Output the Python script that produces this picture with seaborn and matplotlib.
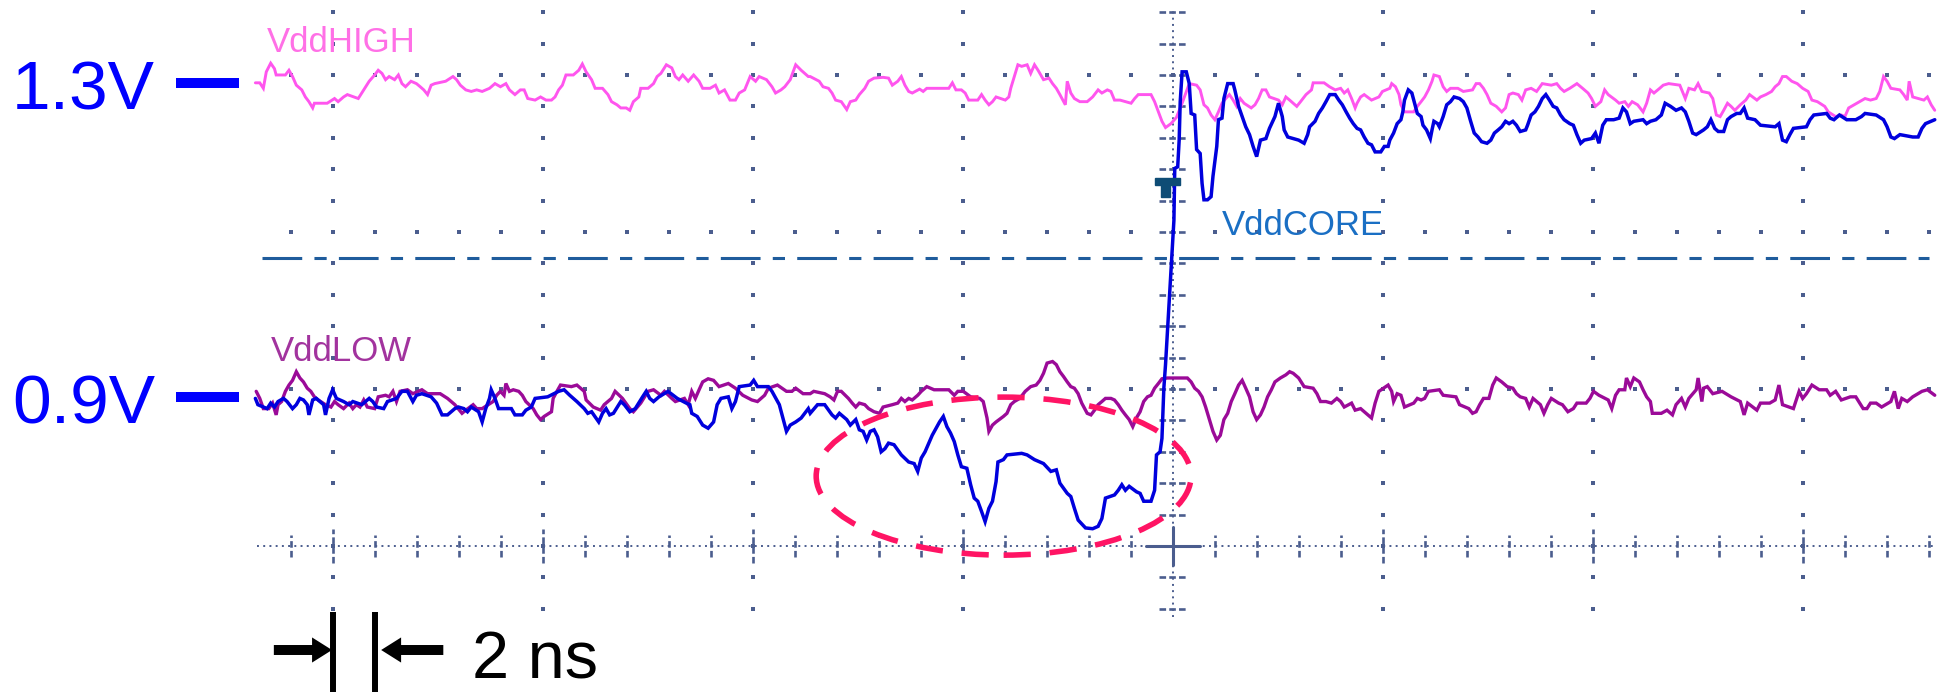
import numpy as np
import pandas as pd
import matplotlib
matplotlib.use("Agg")
import matplotlib.pyplot as plt
from matplotlib.patches import Ellipse, Rectangle
import seaborn as sns

# ---------------- scope screen settings ----------------
NS_PER_DIV = 10.0          # horizontal: 10 ns / div, 5 sub-divisions (2 ns)
V_PER_DIV = 0.2            # vertical: 200 mV / div, 5 sub-divisions (40 mV)
V_CENTER = 0.71            # voltage at the screen centre line
T_MIN, T_MAX = -43.6, 36.3 # visible record

# ---------------- captured waveforms (time in ns, voltage in V) ----------------
VDD_HIGH = [
    (-43.70,1.300),(-43.49,1.300),(-43.32,1.293),(-43.18,1.314),(-42.97,1.325),(-42.79,1.318),(-42.71,1.310),
    (-42.27,1.310),(-42.10,1.316),(-41.93,1.308),(-41.75,1.297),(-41.49,1.291),(-41.32,1.282),(-41.15,1.276),
    (-40.97,1.268),(-40.89,1.274),(-40.28,1.274),(-39.93,1.280),(-39.76,1.276),(-39.50,1.282),(-39.32,1.285),
    (-38.80,1.280),(-38.54,1.291),(-38.28,1.302),(-38.02,1.310),(-37.85,1.316),(-37.67,1.312),(-37.50,1.304),
    (-37.33,1.308),(-37.07,1.304),(-36.89,1.310),(-36.72,1.299),(-36.55,1.295),(-36.29,1.302),(-36.03,1.299),
    (-35.85,1.295),(-35.68,1.291),(-35.50,1.285),(-35.33,1.297),(-35.16,1.299),(-34.64,1.302),(-34.29,1.308),
    (-34.12,1.304),(-33.94,1.297),(-33.68,1.291),(-33.42,1.289),(-33.16,1.291),(-32.90,1.289),(-32.55,1.293),
    (-32.29,1.299),(-32.03,1.295),(-31.77,1.299),(-31.60,1.291),(-31.34,1.285),(-31.08,1.291),(-30.90,1.291),
    (-30.73,1.280),(-30.38,1.278),(-30.12,1.282),(-29.86,1.278),(-29.60,1.278),(-29.43,1.282),(-29.26,1.291),
    (-29.08,1.297),(-28.91,1.310),(-28.56,1.310),(-28.30,1.316),(-28.13,1.324),(-27.95,1.314),(-27.69,1.304),
    (-27.52,1.293),(-27.17,1.293),(-26.91,1.285),(-26.74,1.276),(-26.48,1.272),(-26.30,1.268),(-26.04,1.268),
    (-25.87,1.265),(-25.70,1.276),(-25.44,1.282),(-25.35,1.293),(-25.00,1.293),(-24.74,1.299),(-24.57,1.308),
    (-24.39,1.312),(-24.13,1.323),(-23.87,1.319),(-23.70,1.308),(-23.53,1.304),(-23.35,1.310),(-23.09,1.302),
    (-22.83,1.310),(-22.57,1.302),(-22.40,1.293),(-22.05,1.293),(-21.79,1.297),(-21.62,1.287),(-21.36,1.291),
    (-21.10,1.278),(-20.84,1.278),(-20.66,1.287),(-20.40,1.291),(-20.14,1.308),(-19.88,1.302),(-19.71,1.308),
    (-19.36,1.304),(-19.10,1.295),(-18.93,1.287),(-18.67,1.291),(-18.49,1.295),(-18.23,1.304),(-17.97,1.323),
    (-17.71,1.316),(-17.37,1.308),(-17.28,1.308),(-16.85,1.302),(-16.67,1.295),(-16.41,1.293),(-16.24,1.287),
    (-16.07,1.278),(-15.80,1.276),(-15.54,1.266),(-15.37,1.276),(-15.11,1.278),(-14.94,1.285),(-14.68,1.293),
    (-14.50,1.302),(-14.24,1.306),(-13.81,1.307),(-13.55,1.306),(-13.37,1.297),(-13.11,1.302),(-12.94,1.308),
    (-12.77,1.297),(-12.59,1.289),(-12.42,1.287),(-12.07,1.292),(-11.90,1.289),(-11.73,1.293),(-10.68,1.293),
    (-10.51,1.300),(-10.34,1.291),(-10.08,1.291),(-9.90,1.287),(-9.73,1.278),(-9.30,1.278),(-9.12,1.285),
    (-8.95,1.278),(-8.77,1.272),(-8.60,1.276),(-8.43,1.282),(-7.99,1.278),(-7.82,1.282),(-7.73,1.293),
    (-7.56,1.308),(-7.39,1.323),(-7.21,1.321),(-6.95,1.323),(-6.78,1.312),(-6.60,1.323),(-6.43,1.316),
    (-6.17,1.304),(-5.91,1.306),(-5.74,1.299),(-5.56,1.293),(-5.39,1.285),(-5.13,1.272),(-5.04,1.302),
    (-4.87,1.287),(-4.70,1.280),(-4.44,1.276),(-4.09,1.276),(-3.83,1.282),(-3.57,1.291),(-3.39,1.287),
    (-3.13,1.291),(-2.96,1.289),(-2.79,1.278),(-2.53,1.278),(-2.00,1.274),(-1.83,1.280),(-1.66,1.285),
    (-1.05,1.285),(-0.88,1.276),(-0.70,1.263),(-0.53,1.251),(-0.36,1.243),(-0.10,1.248),(0.16,1.256),
    (0.43,1.274),(0.77,1.299),(1.12,1.297),(1.29,1.291),(1.47,1.272),(1.64,1.268),(1.81,1.259),(1.99,1.253),
    (2.16,1.263),(2.33,1.274),(2.51,1.280),(2.68,1.285),(2.86,1.278),(3.03,1.270),(3.20,1.280),(3.38,1.274),
    (3.72,1.268),(3.90,1.272),(4.07,1.280),(4.24,1.291),(4.42,1.291),(4.59,1.282),(5.02,1.278),(5.20,1.272),
    (5.37,1.282),(5.55,1.278),(5.89,1.270),(6.07,1.276),(6.33,1.285),(6.59,1.291),(6.67,1.300),(7.19,1.300),
    (7.45,1.295),(7.72,1.291),(7.98,1.293),(8.15,1.287),(8.32,1.291),(8.50,1.280),(8.67,1.268),(8.76,1.274),
    (8.93,1.282),(9.10,1.285),(9.45,1.278),(9.80,1.282),(9.97,1.289),(10.32,1.293),(10.41,1.299),(10.59,1.295),
    (10.76,1.285),(10.85,1.272),(11.02,1.263),(11.46,1.263),(11.63,1.270),(11.81,1.276),(11.98,1.282),
    (12.16,1.291),(12.33,1.302),(12.42,1.310),(12.68,1.308),(12.86,1.295),(13.03,1.289),(13.21,1.293),
    (13.56,1.293),(13.82,1.289),(14.26,1.291),(14.43,1.299),(14.60,1.299),(14.78,1.293),(14.95,1.285),
    (15.13,1.274),(15.39,1.270),(15.65,1.263),(15.83,1.268),(16.00,1.285),(16.18,1.287),(16.44,1.285),
    (16.61,1.278),(16.79,1.291),(17.05,1.293),(17.31,1.289),(17.58,1.299),(18.01,1.297),(18.27,1.299),
    (18.45,1.293),(18.62,1.289),(18.89,1.293),(19.23,1.299),(19.50,1.293),(19.76,1.287),(19.93,1.280),
    (20.11,1.270),(20.37,1.276),(20.55,1.291),(20.72,1.285),(21.07,1.278),(21.24,1.274),(21.51,1.276),
    (21.68,1.270),(21.86,1.276),(22.12,1.272),(22.38,1.263),(22.55,1.274),(22.73,1.291),(22.90,1.287),
    (23.17,1.293),(23.34,1.297),(23.60,1.299),(24.13,1.297),(24.39,1.280),(24.56,1.293),(24.83,1.291),
    (25.00,1.299),(25.18,1.289),(25.53,1.287),(25.70,1.280),(25.87,1.259),(26.05,1.257),(26.22,1.265),
    (26.40,1.274),(26.57,1.270),(26.75,1.265),(27.01,1.272),(27.27,1.278),(27.45,1.285),(27.80,1.278),
    (27.97,1.282),(28.23,1.285),(28.50,1.289),(28.67,1.295),(28.85,1.299),(29.02,1.308),(29.20,1.308),
    (29.46,1.302),(29.72,1.299),(29.98,1.293),(30.24,1.289),(30.42,1.278),(30.68,1.276),(31.03,1.270),
    (31.20,1.263),(31.55,1.257),(31.82,1.259),(31.99,1.257),(32.17,1.268),(32.43,1.272),(32.69,1.276),
    (32.95,1.280),(33.21,1.278),(33.48,1.280),(33.65,1.289),(33.83,1.308),(34.00,1.302),(34.18,1.293),
    (34.61,1.291),(34.79,1.285),(34.96,1.278),(35.05,1.302),(35.22,1.282),(35.75,1.278),(35.92,1.282),
    (36.10,1.272),(36.27,1.265),
]

VDD_CORE = [
    (-43.70,0.898),(-43.58,0.890),(-43.14,0.885),(-42.97,0.892),(-42.79,0.887),(-42.62,0.894),(-42.36,0.898),
    (-42.19,0.894),(-41.93,0.885),(-41.75,0.890),(-41.58,0.898),(-41.41,0.896),(-41.23,0.890),(-41.15,0.877),
    (-40.97,0.896),(-40.80,0.898),(-40.45,0.890),(-40.36,0.877),(-40.19,0.898),(-40.02,0.909),(-39.84,0.898),
    (-39.50,0.894),(-39.24,0.890),(-39.06,0.894),(-38.63,0.890),(-38.28,0.898),(-38.11,0.894),(-37.93,0.887),
    (-37.59,0.885),(-37.41,0.894),(-36.98,0.898),(-36.72,0.907),(-36.46,0.907),(-36.20,0.894),(-36.03,0.902),
    (-35.77,0.904),(-35.33,0.900),(-35.07,0.892),(-34.81,0.877),(-34.55,0.877),(-34.20,0.885),(-34.03,0.887),
    (-33.77,0.885),(-33.60,0.881),(-33.42,0.887),(-33.07,0.881),(-32.90,0.868),(-32.73,0.885),(-32.55,0.898),
    (-32.47,0.909),(-32.29,0.898),(-32.12,0.885),(-31.51,0.885),(-31.34,0.877),(-30.99,0.877),(-30.82,0.883),
    (-30.56,0.887),(-30.38,0.898),(-29.78,0.900),(-29.26,0.907),(-29.00,0.909),(-28.73,0.902),(-28.39,0.894),
    (-28.04,0.885),(-27.87,0.879),(-27.69,0.881),(-27.35,0.868),(-27.17,0.879),(-27.00,0.885),(-26.83,0.877),
    (-26.65,0.879),(-26.30,0.894),(-26.13,0.890),(-25.87,0.881),(-25.61,0.885),(-25.26,0.900),(-25.09,0.907),
    (-24.92,0.898),(-24.74,0.894),(-24.48,0.900),(-24.05,0.907),(-23.61,0.898),(-23.18,0.892),(-23.01,0.890),
    (-22.92,0.879),(-22.66,0.875),(-22.40,0.864),(-22.14,0.860),(-21.88,0.868),(-21.71,0.890),(-21.53,0.898),
    (-21.18,0.900),(-21.01,0.885),(-20.84,0.894),(-20.66,0.913),(-20.14,0.915),(-19.97,0.921),(-19.79,0.913),
    (-19.27,0.913),(-19.10,0.907),(-18.75,0.890),(-18.58,0.873),(-18.41,0.856),(-18.23,0.864),(-17.97,0.868),
    (-17.71,0.873),(-17.37,0.885),(-17.28,0.879),(-16.93,0.890),(-16.59,0.890),(-16.24,0.877),(-16.07,0.873),
    (-15.89,0.879),(-15.54,0.871),(-15.37,0.864),(-15.11,0.871),(-14.94,0.858),(-14.76,0.856),(-14.59,0.845),
    (-14.42,0.856),(-14.24,0.858),(-14.07,0.849),(-13.90,0.830),(-13.72,0.834),(-13.55,0.841),(-13.29,0.839),
    (-12.94,0.826),(-12.59,0.817),(-12.33,0.815),(-12.16,0.805),(-11.99,0.822),(-11.81,0.830),(-11.47,0.851),
    (-11.12,0.868),(-10.94,0.875),(-10.77,0.862),(-10.60,0.854),(-10.42,0.843),(-10.25,0.826),(-10.08,0.811),
    (-9.82,0.809),(-9.64,0.788),(-9.47,0.771),(-9.30,0.767),(-9.12,0.754),(-8.95,0.741),(-8.77,0.758),
    (-8.60,0.767),(-8.43,0.792),(-8.34,0.817),(-8.08,0.820),(-7.91,0.826),(-7.21,0.828),(-6.95,0.826),
    (-6.60,0.820),(-6.17,0.815),(-5.82,0.805),(-5.56,0.807),(-5.39,0.790),(-5.04,0.777),(-4.87,0.773),
    (-4.70,0.758),(-4.52,0.743),(-4.17,0.733),(-3.83,0.732),(-3.57,0.735),(-3.39,0.745),(-3.22,0.771),
    (-2.79,0.775),(-2.61,0.781),(-2.44,0.788),(-2.27,0.781),(-2.09,0.786),(-1.74,0.779),(-1.57,0.777),
    (-1.40,0.767),(-1.05,0.767),(-0.88,0.781),(-0.79,0.826),(-0.62,0.830),(-0.53,0.847),(-0.44,0.911),
    (-0.36,0.941),(0.04,1.125),(0.08,1.191),(0.22,1.193),(0.29,1.227),(0.34,1.276),(0.43,1.314),(0.63,1.314),
    (0.77,1.299),(0.86,1.261),(1.03,1.259),(1.12,1.215),(1.29,1.210),(1.38,1.172),(1.47,1.151),(1.64,1.151),
    (1.81,1.155),(1.90,1.181),(2.08,1.219),(2.16,1.253),(2.33,1.255),(2.42,1.280),(2.60,1.299),(2.86,1.299),
    (2.94,1.291),(3.12,1.270),(3.29,1.257),(3.46,1.244),(3.64,1.234),(3.81,1.219),(3.98,1.206),(4.16,1.227),
    (4.42,1.229),(4.59,1.242),(4.85,1.257),(5.02,1.274),(5.20,1.257),(5.29,1.240),(5.46,1.231),(5.98,1.227),
    (6.24,1.223),(6.41,1.234),(6.50,1.244),(6.76,1.251),(6.93,1.261),(7.11,1.268),(7.28,1.276),(7.46,1.285),
    (7.72,1.285),(7.89,1.278),(8.06,1.272),(8.24,1.263),(8.41,1.255),(8.58,1.248),(8.76,1.242),(8.93,1.240),
    (9.10,1.231),(9.28,1.223),(9.45,1.221),(9.62,1.212),(9.89,1.212),(10.06,1.219),(10.24,1.219),(10.32,1.227),
    (10.50,1.236),(10.67,1.248),(10.85,1.253),(10.94,1.263),(11.02,1.278),(11.20,1.291),(11.37,1.287),
    (11.46,1.278),(11.63,1.261),(11.81,1.257),(11.90,1.246),(12.07,1.240),(12.25,1.229),(12.33,1.240),
    (12.42,1.251),(12.60,1.248),(12.68,1.244),(12.86,1.257),(13.03,1.272),(13.21,1.276),(13.38,1.282),
    (13.64,1.280),(13.82,1.276),(13.99,1.268),(14.17,1.251),(14.34,1.236),(14.52,1.231),(14.69,1.225),
    (14.95,1.223),(15.13,1.227),(15.30,1.236),(15.48,1.240),(15.65,1.244),(15.83,1.251),(16.00,1.248),
    (16.18,1.251),(16.35,1.246),(16.53,1.238),(16.79,1.240),(16.88,1.246),(17.05,1.259),(17.23,1.263),
    (17.40,1.270),(17.58,1.280),(17.75,1.285),(17.92,1.278),(18.10,1.270),(18.27,1.268),(18.45,1.259),
    (18.62,1.253),(18.89,1.248),(19.06,1.246),(19.23,1.234),(19.41,1.223),(19.58,1.227),(19.93,1.229),
    (20.11,1.236),(20.28,1.223),(20.46,1.246),(20.63,1.253),(20.98,1.253),(21.24,1.255),(21.42,1.268),
    (21.59,1.263),(21.77,1.248),(21.94,1.251),(22.38,1.253),(22.55,1.248),(22.73,1.251),(22.99,1.253),
    (23.25,1.259),(23.43,1.274),(23.69,1.270),(23.95,1.265),(24.21,1.268),(24.39,1.263),(24.56,1.251),
    (24.74,1.236),(24.91,1.234),(25.26,1.240),(25.44,1.244),(25.61,1.253),(25.79,1.242),(25.96,1.238),
    (26.22,1.238),(26.40,1.253),(26.57,1.257),(26.84,1.261),(27.01,1.261),(27.19,1.268),(27.36,1.255),
    (27.71,1.253),(27.97,1.246),(28.67,1.244),(28.85,1.248),(29.02,1.227),(29.20,1.225),(29.37,1.234),
    (29.54,1.242),(30.16,1.244),(30.33,1.253),(30.51,1.259),(31.12,1.261),(31.29,1.255),(31.47,1.253),
    (31.73,1.259),(32.08,1.253),(32.51,1.253),(32.78,1.257),(32.95,1.261),(33.48,1.259),(33.83,1.253),
    (34.00,1.244),(34.18,1.231),(34.35,1.229),(34.61,1.234),(35.22,1.231),(35.48,1.231),(35.66,1.242),
    (35.83,1.248),(36.27,1.253),
]

VDD_LOW = [
    (-43.66,0.907),(-43.49,0.898),(-43.32,0.885),(-43.06,0.885),(-42.88,0.892),(-42.71,0.877),(-42.62,0.890),
    (-42.45,0.894),(-42.27,0.907),(-42.10,0.915),(-41.93,0.921),(-41.75,0.932),(-41.58,0.924),(-41.41,0.919),
    (-41.23,0.911),(-41.06,0.907),(-40.89,0.900),(-40.71,0.896),(-40.36,0.890),(-40.10,0.887),(-39.93,0.894),
    (-39.76,0.890),(-39.50,0.885),(-39.24,0.892),(-39.06,0.885),(-38.89,0.890),(-38.72,0.887),(-38.54,0.896),
    (-38.37,0.887),(-38.02,0.885),(-37.85,0.900),(-37.50,0.902),(-37.33,0.900),(-37.15,0.907),(-36.98,0.894),
    (-36.81,0.907),(-36.46,0.909),(-36.20,0.904),(-35.77,0.909),(-35.50,0.904),(-34.90,0.904),(-34.55,0.898),
    (-34.20,0.890),(-33.86,0.879),(-33.68,0.883),(-33.33,0.890),(-33.16,0.885),(-32.90,0.885),(-32.38,0.894),
    (-32.21,0.902),(-32.03,0.907),(-31.86,0.902),(-31.77,0.917),(-31.60,0.907),(-31.42,0.909),(-31.16,0.907),
    (-30.99,0.902),(-30.82,0.894),(-30.47,0.885),(-30.30,0.877),(-30.12,0.871),(-29.95,0.875),(-29.60,0.881),
    (-29.52,0.898),(-29.34,0.907),(-29.17,0.915),(-28.65,0.913),(-28.39,0.915),(-28.04,0.907),(-27.95,0.896),
    (-27.61,0.887),(-27.26,0.883),(-27.09,0.890),(-26.74,0.898),(-26.57,0.907),(-26.22,0.898),(-25.87,0.885),
    (-25.70,0.881),(-25.35,0.892),(-25.00,0.907),(-24.74,0.909),(-24.39,0.902),(-24.22,0.907),(-23.87,0.898),
    (-23.70,0.894),(-23.27,0.898),(-23.09,0.890),(-22.92,0.907),(-22.75,0.898),(-22.57,0.909),(-22.40,0.919),
    (-22.14,0.923),(-21.88,0.921),(-21.62,0.913),(-21.18,0.917),(-20.84,0.911),(-20.49,0.902),(-20.06,0.896),
    (-19.79,0.894),(-19.45,0.902),(-19.27,0.911),(-18.84,0.915),(-18.41,0.907),(-18.15,0.907),(-17.97,0.911),
    (-17.62,0.904),(-17.28,0.904),(-17.11,0.907),(-16.59,0.904),(-16.33,0.900),(-16.15,0.896),(-15.98,0.907),
    (-15.80,0.907),(-15.46,0.898),(-15.28,0.892),(-15.11,0.887),(-14.94,0.892),(-14.68,0.890),(-14.50,0.885),
    (-14.24,0.881),(-13.98,0.879),(-13.81,0.887),(-13.37,0.890),(-13.11,0.892),(-12.94,0.898),(-12.77,0.894),
    (-12.59,0.898),(-12.42,0.896),(-12.16,0.902),(-11.99,0.907),(-11.73,0.913),(-11.38,0.909),(-10.68,0.909),
    (-10.42,0.902),(-10.25,0.907),(-9.99,0.907),(-9.64,0.900),(-9.21,0.898),(-9.04,0.894),(-8.86,0.873),
    (-8.77,0.856),(-8.60,0.864),(-8.43,0.868),(-8.08,0.875),(-7.91,0.879),(-7.73,0.890),(-7.56,0.894),
    (-7.30,0.898),(-7.04,0.907),(-6.78,0.913),(-6.52,0.915),(-6.34,0.921),(-6.17,0.930),(-6.00,0.943),
    (-5.74,0.945),(-5.56,0.941),(-5.39,0.932),(-5.22,0.926),(-5.04,0.919),(-4.87,0.913),(-4.70,0.911),
    (-4.52,0.904),(-4.35,0.892),(-4.09,0.879),(-3.91,0.877),(-3.74,0.883),(-3.57,0.890),(-3.39,0.894),
    (-3.22,0.898),(-2.96,0.898),(-2.79,0.896),(-2.61,0.890),(-2.44,0.883),(-2.27,0.877),(-2.09,0.871),
    (-1.92,0.862),(-1.75,0.873),(-1.57,0.881),(-1.40,0.894),(-1.22,0.900),(-1.05,0.902),(-0.88,0.911),
    (-0.70,0.917),(-0.53,0.923),(-0.27,0.924),(0.68,0.924),(0.86,0.919),(1.03,0.911),(1.21,0.907),(1.38,0.900),
    (1.55,0.887),(1.73,0.871),(1.90,0.856),(2.08,0.845),(2.25,0.851),(2.42,0.871),(2.60,0.879),(2.77,0.894),
    (2.94,0.904),(3.12,0.915),(3.29,0.921),(3.46,0.911),(3.64,0.900),(3.81,0.881),(3.98,0.871),(4.16,0.877),
    (4.33,0.887),(4.50,0.900),(4.68,0.909),(4.85,0.919),(5.11,0.924),(5.37,0.928),(5.55,0.932),(5.72,0.930),
    (5.98,0.924),(6.24,0.913),(6.67,0.911),(6.85,0.904),(7.02,0.894),(7.28,0.894),(7.54,0.892),(7.80,0.898),
    (7.98,0.894),(8.15,0.887),(8.50,0.892),(8.67,0.883),(8.93,0.885),(9.28,0.877),(9.45,0.873),(9.62,0.892),
    (9.80,0.907),(10.24,0.915),(10.41,0.907),(10.50,0.894),(10.67,0.904),(10.85,0.902),(11.02,0.887),
    (11.46,0.892),(11.63,0.898),(11.81,0.896),(11.98,0.898),(12.16,0.907),(12.68,0.909),(12.86,0.902),
    (13.47,0.900),(13.64,0.890),(14.08,0.885),(14.26,0.879),(14.43,0.881),(14.60,0.890),(14.78,0.898),
    (15.04,0.898),(15.22,0.915),(15.39,0.924),(15.65,0.919),(15.91,0.913),(16.18,0.911),(16.35,0.904),
    (16.53,0.900),(16.79,0.898),(16.96,0.887),(17.14,0.898),(17.49,0.890),(17.66,0.879),(17.84,0.890),
    (18.01,0.898),(18.36,0.892),(18.54,0.890),(18.80,0.881),(19.06,0.885),(19.23,0.892),(19.67,0.892),
    (19.85,0.898),(20.02,0.907),(20.28,0.902),(20.72,0.896),(20.89,0.885),(21.07,0.902),(21.24,0.909),
    (21.51,0.909),(21.59,0.924),(21.77,0.913),(21.94,0.924),(22.21,0.919),(22.38,0.909),(22.55,0.900),
    (22.73,0.894),(22.82,0.879),(23.25,0.879),(23.52,0.883),(23.78,0.877),(23.95,0.890),(24.21,0.898),
    (24.39,0.887),(24.56,0.898),(24.91,0.909),(25.00,0.924),(25.18,0.894),(25.26,0.911),(25.44,0.913),
    (25.70,0.904),(26.14,0.907),(26.57,0.900),(27.01,0.894),(27.19,0.877),(27.36,0.892),(27.80,0.883),
    (27.97,0.892),(28.41,0.892),(28.67,0.896),(28.85,0.915),(29.02,0.890),(29.54,0.885),(29.81,0.907),
    (29.98,0.898),(30.16,0.904),(30.42,0.915),(30.77,0.909),(31.12,0.909),(31.29,0.902),(31.55,0.907),
    (31.82,0.896),(32.25,0.900),(32.51,0.900),(32.86,0.885),(33.04,0.885),(33.21,0.892),(33.48,0.892),
    (33.74,0.887),(34.18,0.894),(34.35,0.907),(34.53,0.885),(34.70,0.898),(34.96,0.894),(35.22,0.900),
    (35.66,0.907),(35.92,0.909),(36.27,0.902),
]

TRACE_NAMES = ["VddHIGH", "VddLOW", "VddCORE"]
TRACE_COLORS = {"VddHIGH": "#FF55EE", "VddLOW": "#9B0A98", "VddCORE": "#0000DD"}
TRACE_WIDTHS = {"VddHIGH": 2.1, "VddLOW": 2.4, "VddCORE": 2.5}
LABEL_COLORS = {"VddHIGH": "#FF70E6", "VddLOW": "#A2339E", "VddCORE": "#1A6FC4"}

LEVEL_LABELS = ["1.3V", "0.9V"]
LEVEL_VALUES = [1.3, 0.9]

TRIGGER_LEVEL = 1.077          # dash-dot level cursor
SCALE_BAR_NS = 2               # width of the timing bracket
SCALE_BAR_START = -40.0

# ---------------- figure ----------------
sns.set_theme(style="white")
plt.rcParams["font.family"] = ["Liberation Sans", "DejaVu Sans"]

fig = plt.figure(figsize=(19.44, 6.92), dpi=100)
ax = fig.add_axes([0, 0, 1, 1])
ax.set_xlim(-55.86, 36.71)
ax.set_ylim(0.524, 1.4055)
ax.axis("off")

GRID = "#4B5D8E"
sub_t = 2.0
sub_v = 0.04
minor_t = np.arange(-42, 36.01, sub_t)
minor_v = V_CENTER + sub_v * np.arange(-2, 18)
major_t = [t for t in np.arange(-40, 31, NS_PER_DIV) if abs(t) > 1e-9]
major_v = [V_CENTER + V_PER_DIV * k for k in (1, 2, 3)]

# graticule dots on major columns and rows
dots = [(t, v) for t in major_t for v in minor_v] + [(t, v) for v in major_v for t in minor_t]
dots = pd.DataFrame(dots, columns=["t", "v"])
sns.scatterplot(data=dots, x="t", y="v", marker="s", s=6, color=GRID, linewidth=0, ax=ax, zorder=1)

# centre axes with sub-division ticks
ax.plot([T_MIN, T_MAX], [V_CENTER, V_CENTER], color=GRID, lw=1.4, ls=(0, (1, 2.2)), zorder=1)
ax.plot([0, 0], [minor_v[0] - 0.01, minor_v[-1] + 0.004], color=GRID, lw=1.4, ls=(0, (1, 2.2)), zorder=1)
for t in minor_t:
    h = 0.022 if abs(t % NS_PER_DIV) < 1e-9 else 0.014
    ax.plot([t, t], [V_CENTER - h, V_CENTER + h], color=GRID, lw=1.9, ls=(0, (2.5, 1.2)), zorder=1)
for v in minor_v:
    ax.plot([-0.65, 0.65], [v, v], color=GRID, lw=1.9, ls=(0, (2.5, 1.2)), zorder=1)
ax.plot([-1.3, 1.3], [V_CENTER, V_CENTER], color=GRID, lw=2.2, zorder=1)
ax.plot([0, 0], [V_CENTER - 0.024, V_CENTER + 0.024], color=GRID, lw=2.2, zorder=1)

# level cursor
ax.plot([-43.4, 36.0], [TRIGGER_LEVEL, TRIGGER_LEVEL], color="#1F5C9C", lw=2.2,
        dashes=(13, 4, 4, 4), zorder=2)

# waveforms
frames = []
for name, rows in zip(TRACE_NAMES, [VDD_HIGH, VDD_LOW, VDD_CORE]):
    d = pd.DataFrame(rows, columns=["t", "v"])
    d["trace"] = name
    frames.append(d)
waves = pd.concat(frames, ignore_index=True)
for name in TRACE_NAMES:
    sns.lineplot(data=waves[waves["trace"] == name], x="t", y="v", color=TRACE_COLORS[name],
                 lw=TRACE_WIDTHS[name], estimator=None, sort=False, legend=False, ax=ax, zorder=3,
                 solid_joinstyle="miter")

# trigger marker
ax.add_patch(Rectangle((-0.86, 1.1699), 1.19, 0.0089, color="#0E4C75", zorder=4))
ax.add_patch(Rectangle((-0.57, 1.1546), 0.43, 0.0160, color="#0E4C75", zorder=4))

# channel names
narrow = ["Liberation Sans Narrow", "Liberation Sans", "DejaVu Sans"]
ax.text(-43.15, 1.339, "VddHIGH", color=LABEL_COLORS["VddHIGH"], fontsize=25, family=narrow, va="baseline")
ax.text(-42.96, 0.946, "VddLOW", color=LABEL_COLORS["VddLOW"], fontsize=25, family=narrow, va="baseline")
ax.text(2.34, 1.106, "VddCORE", color=LABEL_COLORS["VddCORE"], fontsize=25, family=narrow, va="baseline")

# voltage level markers
for lab, val in zip(LEVEL_LABELS, LEVEL_VALUES):
    ax.text(-55.3, val - 0.0335, lab, color="#0000FF", fontsize=50, va="baseline", ha="left")
    ax.plot([-47.5, -44.5], [val, val], color="#0000FF", lw=7.2, solid_capstyle="butt")

# region of interest
ax.add_patch(Ellipse((-8.07, 0.799), width=17.85, height=0.2013, fill=False, ec="#FF1464",
                     lw=4.0, ls=(0, (4.9, 3.4)), zorder=5))

# timing bracket
y_arrow = 0.5775
for t in (SCALE_BAR_START, SCALE_BAR_START + SCALE_BAR_NS):
    ax.plot([t, t], [0.524, 0.626], color="black", lw=4.3, solid_capstyle="butt")
ax.arrow(-42.82, y_arrow, 2.77, 0, width=0.0127, head_width=0.032, head_length=0.95,
         length_includes_head=True, color="black", lw=0)
ax.arrow(-34.75, y_arrow, -2.96, 0, width=0.0127, head_width=0.032, head_length=0.95,
         length_includes_head=True, color="black", lw=0)
ax.text(-33.37, 0.5418, f"{SCALE_BAR_NS} ns", color="black", fontsize=48, va="baseline", ha="left")

fig.savefig("out.png", dpi=100)
